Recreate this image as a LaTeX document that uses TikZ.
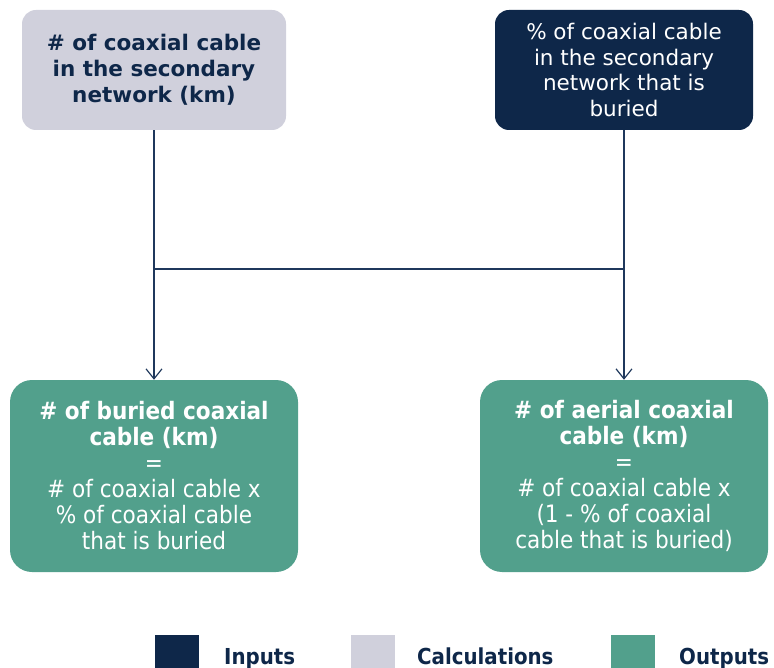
\documentclass[tikz,border=0pt]{standalone}
\usepackage{fontspec}
\setmainfont{DejaVu Sans}
\newfontfamily\condfont{DejaVu Sans Condensed}
\usetikzlibrary{arrows.meta}
\definecolor{inNavy}{RGB}{14, 39, 73}
\definecolor{calcGrey}{RGB}{208, 208, 220}
\definecolor{outGreen}{RGB}{82, 160, 140}
\definecolor{lineBlue}{RGB}{31, 56, 92}

\tikzset{
  box/.style={rounded corners=14pt, align=center, inner sep=0pt},
  calcbox/.style={box, fill=calcGrey, text=inNavy, font=\fontsize{21.5}{26}\selectfont\bfseries},
  inbox/.style={box, fill=inNavy, text=white, font=\fontsize{21.5}{25.5}\selectfont},
  outbox/.style={box, rounded corners=22pt, fill=outGreen, text=white, font=\condfont\fontsize{24}{26}\selectfont},
  flow/.style={lineBlue, line width=1.2pt, -{Straight Barb[length=10pt, width=16pt]}},
  key/.style={minimum width=44pt, minimum height=33pt, inner sep=0pt},
  keytext/.style={anchor=base west, inner sep=0pt, text=inNavy, font=\condfont\fontsize{22}{26}\selectfont\bfseries}
}

\begin{document}
\begin{tikzpicture}[x=1pt, y=-1pt]
        \useasboundingbox (0,0) rectangle (774,668);
        % top row
        \node[calcbox, minimum width=264pt, minimum height=120pt] (calc) at (154,70)
          {\# of coaxial cable\\in the secondary\\network (km)};
        \node[inbox, minimum width=258pt, minimum height=120pt] (inp) at (624,70)
          {\% of coaxial cable\\in the secondary\\network that is\\buried};
        % bottom row
        \node[outbox, minimum width=288pt, minimum height=192pt] (buried) at (154,476)
          {\textbf{\# of buried coaxial}\\\textbf{cable (km)}\\=\\\# of coaxial cable x\\\% of coaxial cable\\that is buried};
        \node[outbox, minimum width=288pt, minimum height=192pt] (aerial) at (624,476)
          {\textbf{\# of aerial coaxial}\\\textbf{cable (km)}\\=\\\# of coaxial cable x\\(1 - \% of coaxial\\cable that is buried)};
        % connectors
        \coordinate (jl) at (calc.south |- 0,269);
        \coordinate (jr) at (inp.south |- 0,269);
        \draw[flow] (calc.south) -- (buried.north);
        \draw[flow] (inp.south) -- (aerial.north);
        \draw[lineBlue, line width=1.2pt] (jl) -- (jr);
        % legend
        \node[key, fill=inNavy] (kin) at (176.5,651.5) {};
        \node[keytext] (tin) at (224,664) {Inputs};
        \node[key, fill=calcGrey] (kcalc) at (372.5,651.5) {};
        \node[keytext] (tcalc) at (417,664) {Calculations};
        \node[key, fill=outGreen] (kout) at (632.5,651.5) {};
        \node[keytext] (tout) at (679,664) {Outputs};
      \end{tikzpicture}
\end{document}
